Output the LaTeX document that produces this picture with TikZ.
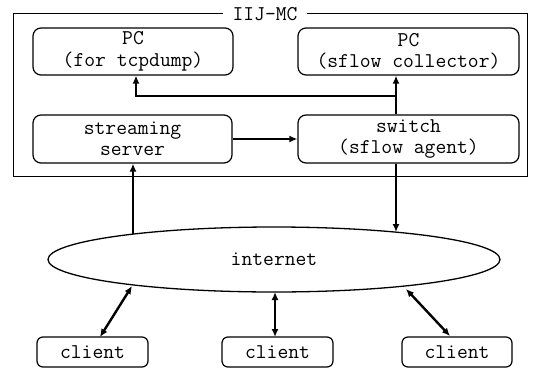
\documentclass[tikz,border=0pt]{standalone}
\usetikzlibrary{arrows.meta,shapes.geometric}
\begin{document}
\begin{tikzpicture}[x=1pt,y=-1pt,
  lbl/.style={font=\ttfamily\fontsize{21}{21.5}\selectfont, align=center},
  box/.style={lbl, draw, rounded corners=8pt, line width=1.2pt, inner sep=0pt},
  conn/.style={line width=2.4pt, -{Latex[length=8pt,width=7pt]}},
  dconn/.style={line width=2.4pt, {Latex[length=8pt,width=7pt]}-{Latex[length=8pt,width=7pt]}}]
\useasboundingbox (0,0) rectangle (537,369);
\draw[line width=1pt] (13,14) rectangle (527,176);
\node[lbl, fill=white, inner xsep=10pt, inner ysep=1pt] (title) at (265,14) {IIJ-MC};
\node[box, minimum width=200pt, minimum height=47pt] (tcp) at (133,51.5) {PC\\(for tcpdump)};
\node[box, minimum width=221pt, minimum height=47pt] (col) at (408.5,51.5) {PC\\(sflow collector)};
\node[box, minimum width=199pt, minimum height=48pt] (srv) at (132.5,139) {streaming\\server};
\node[box, minimum width=221pt, minimum height=48pt] (sw) at (408.5,139) {switch\\(sflow agent)};
\node[lbl, draw, ellipse, line width=1.3pt, minimum width=452pt, minimum height=65pt, inner sep=0pt] (inet) at (274,259.5) {internet};
\node[box, rounded corners=6pt, minimum width=111pt, minimum height=30pt] (c1) at (92.5,352) {client};
\node[box, rounded corners=6pt, minimum width=111pt, minimum height=30pt] (c2) at (277.5,352) {client};
\node[box, rounded corners=6pt, minimum width=110pt, minimum height=30pt] (c3) at (457,352) {client};
\coordinate (j) at (396,96);
\coordinate (k) at (136,96);
\coordinate (e1) at (133,234);
\coordinate (e2) at (396,232);
\coordinate (b1) at (132,286);
\coordinate (b2) at (275,292);
\coordinate (b3) at (406,289);
\coordinate (t1) at (100,337);
\coordinate (t2) at (275,337);
\coordinate (t3) at (450,336);
\draw[conn] (srv.east) -- (sw.west);
\draw[conn] (sw.north -| j) -- (col.south -| j);
\draw[conn] (j) -- (k) -- (tcp.south -| k);
\draw[conn] (e1) -- (srv.south -| e1);
\draw[conn] (sw.south -| e2) -- (e2);
\draw[dconn] (t1) -- (b1);
\draw[dconn] (t2) -- (b2);
\draw[dconn] (t3) -- (b3);
\end{tikzpicture}
\end{document}
